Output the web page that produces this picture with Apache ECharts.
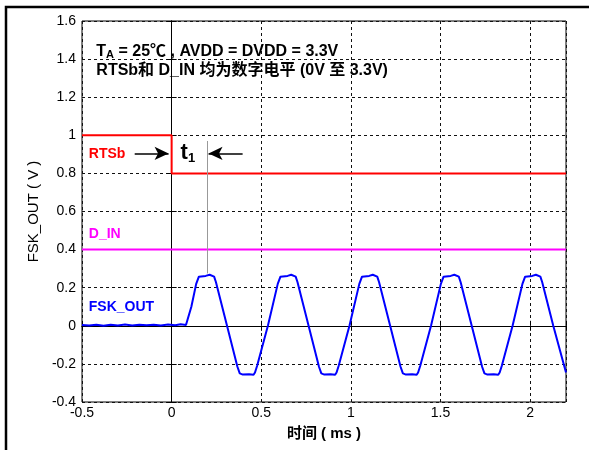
<!DOCTYPE html>
<html><head><meta charset="utf-8">
<script src="https://cdn.jsdelivr.net/npm/echarts@6/dist/echarts.min.js"></script>
<style>html,body{margin:0;padding:0;background:#fff}#c{width:589px;height:450px}</style>
</head><body><div id="c"></div>
<script>
// ---- data ----
const xTicks = [-0.5, 0, 0.5, 1, 1.5, 2];
const yTicks = [-0.4, -0.2, 0, 0.2, 0.4, 0.6, 0.8, 1, 1.2, 1.4, 1.6];
const rtsbT = [-0.5, 0, 0, 2.2];
const rtsbV = [1, 1, 0.8, 0.8];
const dinT = [-0.5, 2.2];
const dinV = [0.4, 0.4];
const fskT = [-0.5,-0.46,-0.42,-0.38,-0.34,-0.3,-0.26,-0.22,-0.18,-0.14,-0.1,-0.06,-0.02,0.02,0.05,0.08,
  0.085,0.11,0.137,0.152,0.162,0.19,0.212,0.237,0.247,0.309,0.367,0.38,0.397,0.432,0.457,0.465,
  0.477,0.537,0.592,0.607,0.617,0.647,0.667,0.692,0.702,0.764,0.822,0.835,0.852,0.887,0.912,0.92,
  0.932,0.992,1.047,1.062,1.072,1.102,1.122,1.147,1.157,1.219,1.277,1.29,1.307,1.342,1.367,1.375,
  1.387,1.447,1.502,1.517,1.527,1.557,1.577,1.602,1.612,1.674,1.732,1.745,1.762,1.797,1.822,1.83,
  1.842,1.902,1.957,1.972,1.982,2.012,2.032,2.057,2.067,2.129,2.2];
const fskV = [0.004,0.001,0.006,0.0,0.005,0.002,0.007,0.001,0.005,0.003,0.006,0.002,0.007,0.003,0.008,0.004,
  0.01,0.1,0.22,0.258,0.266,0.262,0.268,0.258,0.23,0.0,-0.215,-0.25,-0.256,-0.254,-0.257,-0.245,
  -0.21,0.0,0.22,0.258,0.266,0.262,0.268,0.258,0.23,0.0,-0.215,-0.25,-0.256,-0.254,-0.257,-0.245,
  -0.21,0.0,0.22,0.258,0.266,0.262,0.268,0.258,0.23,0.0,-0.215,-0.25,-0.256,-0.254,-0.257,-0.245,
  -0.21,0.0,0.22,0.258,0.266,0.262,0.268,0.258,0.23,0.0,-0.215,-0.25,-0.256,-0.254,-0.257,-0.245,
  -0.21,0.0,0.22,0.258,0.266,0.262,0.268,0.258,0.23,0.0,-0.245];
const t1Marker = 0.2;        // x of the t1 reference line (ms)
const t1Top = 0.97, t1Bottom = 0.275;
const arrowY = 0.905;
const arrowLeft = [-0.206, -0.017];
const arrowRight = [0.396, 0.206];

const zip = (a, b) => a.map((v, i) => [v, b[i]]);
const FONT = "'Liberation Sans', 'Noto Sans CJK SC', sans-serif";

const chart = echarts.init(document.getElementById('c'), null, {renderer: 'canvas'});
const gridLine = {show: true, lineStyle: {color: '#111', type: [3, 3], width: 1}};
const isTick = (v, list) => list.some(t => Math.abs(t - v) < 1e-6);

const option = {
  animation: false,
  backgroundColor: '#fff',
  grid: {left: 82, top: 21, right: 23, bottom: 48, show: true, borderColor: '#000', borderWidth: 1},
  xAxis: [{
    type: 'value', min: -0.5, max: 2.2, interval: 0.5,
    axisLine: {show: true, lineStyle: {color: '#000'}},
    axisTick: {show: true, inside: true, length: 5, lineStyle: {color: '#000'}},
    axisLabel: {color: '#000', fontFamily: FONT, fontSize: 14, margin: 4,
      formatter: v => isTick(v, xTicks) ? String(v) : ''},
    splitLine: gridLine,
    name: '时间 ( ms )', nameLocation: 'middle', nameGap: 24,
    nameTextStyle: {color: '#000', fontFamily: FONT, fontSize: 15, fontWeight: 'bold'}
  }, {
    type: 'value', min: -0.5, max: 2.2, interval: 0.5, position: 'top',
    axisLine: {show: true, lineStyle: {color: '#000'}},
    axisTick: {show: true, inside: true, length: 5, lineStyle: {color: '#000'}},
    axisLabel: {show: false}, splitLine: {show: false}
  }],
  yAxis: [{
    type: 'value', min: -0.4, max: 1.6, interval: 0.2,
    axisLine: {show: true, lineStyle: {color: '#000'}},
    axisTick: {show: true, inside: true, length: 5, lineStyle: {color: '#000'}},
    axisLabel: {color: '#000', fontFamily: FONT, fontSize: 14, margin: 6,
      formatter: v => isTick(v, yTicks) ? String(Math.round(v * 10) / 10) : ''},
    splitLine: gridLine,
    name: 'FSK_OUT ( V )', nameLocation: 'middle', nameGap: 37,
    nameTextStyle: {color: '#000', fontFamily: FONT, fontSize: 15}
  }, {
    type: 'value', min: -0.4, max: 1.6, interval: 0.2, position: 'right',
    axisLine: {show: true, lineStyle: {color: '#000'}},
    axisTick: {show: true, inside: true, length: 5, lineStyle: {color: '#000'}},
    axisLabel: {show: false}, splitLine: {show: false}
  }],
  series: [
    {type: 'line', name: 'D_IN', data: zip(dinT, dinV), showSymbol: false,
      lineStyle: {color: '#ff00ff', width: 2}, z: 3},
    {type: 'line', name: 'RTSb', data: zip(rtsbT, rtsbV), showSymbol: false,
      lineStyle: {color: '#ff0000', width: 2}, z: 3,
      markLine: {
        silent: true, animation: false, label: {show: false},
        symbol: ['none', 'arrow'], symbolSize: [10, 14],
        lineStyle: {color: '#000', width: 1.5, type: 'solid'},
        data: [
          [{coord: [arrowLeft[0], arrowY]}, {coord: [arrowLeft[1], arrowY]}],
          [{coord: [arrowRight[0], arrowY]}, {coord: [arrowRight[1], arrowY]}],
          [{coord: [t1Marker, t1Top], symbol: 'none', lineStyle: {color: '#999', width: 1}},
           {coord: [t1Marker, t1Bottom], symbol: 'none'}]
        ]
      }},
    {type: 'line', name: 'FSK_OUT', data: zip(fskT, fskV), showSymbol: false,
      lineStyle: {color: '#0000ff', width: 2}, z: 4}
  ]
};
chart.setOption(option);

function px(x, y) { return chart.convertToPixel({xAxisIndex: 0, yAxisIndex: 0}, [x, y]); }
const pR = px(-0.462, 0.9), pD = px(-0.462, 0.479), pF = px(-0.462, 0.1), pT = px(0.05, 0.905);
const pA = px(-0.42, 1.39);
chart.setOption({
  graphic: [
    {type: 'rect', shape: {x: 6, y: 7, width: 700, height: 600}, style: {fill: 'none', stroke: '#000', lineWidth: 2.5}, silent: true},
    {type: 'text', x: pR[0], y: pR[1], style: {text: 'RTSb', fill: '#ff0000', font: 'bold 14px ' + FONT, verticalAlign: 'middle'}},
    {type: 'text', x: pD[0], y: pD[1], style: {text: 'D_IN', fill: '#ff00ff', font: 'bold 14px ' + FONT, verticalAlign: 'middle'}},
    {type: 'text', x: pF[0], y: pF[1], style: {text: 'FSK_OUT', fill: '#0000ff', font: 'bold 14px ' + FONT, verticalAlign: 'middle'}},
    {type: 'text', x: pT[0], y: pT[1], style: {
      text: '{t|t}{s|1}', verticalAlign: 'middle',
      rich: {t: {fontSize: 22, fontWeight: 'bold', fontFamily: FONT, fill: '#000'},
             s: {fontSize: 13, fontWeight: 'bold', fontFamily: FONT, fill: '#000', padding: [10, 0, 0, 0]}}}},
    {type: 'text', x: pA[0], y: pA[1], style: {
      text: '{a|T}{s|A}{a| = 25℃ , AVDD = DVDD = 3.3V}\n{a|RTSb和 D_IN 均为数字电平 (0V 至 3.3V)}',
      verticalAlign: 'middle',
      rich: {a: {fontSize: 16, fontWeight: 'bold', fontFamily: FONT, fill: '#000', lineHeight: 19},
             s: {fontSize: 11, fontWeight: 'bold', fontFamily: FONT, fill: '#000', padding: [7, 0, 0, 0], lineHeight: 19}}}}
  ]
});
</script></body></html>
